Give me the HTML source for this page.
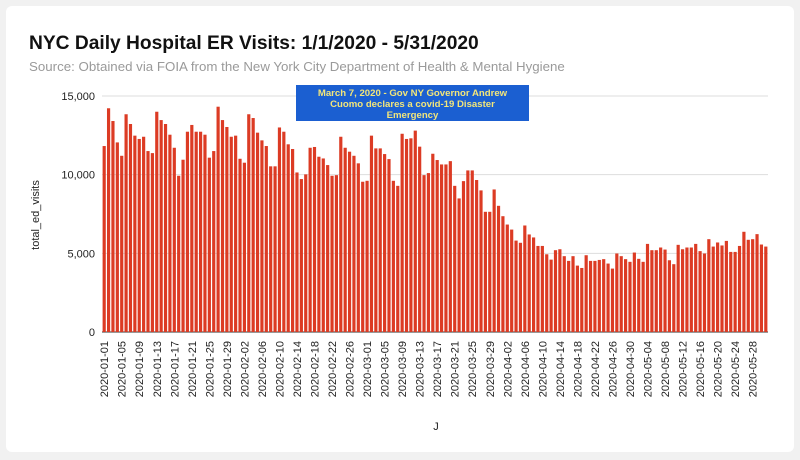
<!DOCTYPE html>
<html><head><meta charset="utf-8"><style>
html,body{margin:0;padding:0;background:#f1f1f1;}
svg{display:block;font-family:"Liberation Sans",Arial,sans-serif;}
</style></head><body>
<svg id="chart" width="800" height="460">
<rect x="6" y="6" width="788" height="446" rx="6" fill="#fff"/>
<text x="29" y="49" font-size="19.2" font-weight="bold" fill="#111">NYC Daily Hospital ER Visits: 1/1/2020 - 5/31/2020</text>
<text x="29" y="71" font-size="13.3" fill="#9a9a9a">Source: Obtained via FOIA from the New York City Department of Health &amp; Mental Hygiene</text>
<g id="grid"></g><g id="bars"></g><g id="xlabels"></g>
<text transform="translate(39,215) rotate(-90)" text-anchor="middle" font-size="11" fill="#222">total_ed_visits</text>
<text x="436" y="430" text-anchor="middle" font-size="11" fill="#222">J</text>
<g>
<rect x="296" y="85" width="233" height="36" fill="#1b5fd1"/>
<text x="412.5" y="96" text-anchor="middle" font-size="9.6" font-weight="bold" fill="#f3e67a">March 7, 2020 - Gov NY Governor Andrew</text>
<text x="412.5" y="107" text-anchor="middle" font-size="9.6" font-weight="bold" fill="#f3e67a">Cuomo declares a covid-19 Disaster</text>
<text x="412.5" y="118" text-anchor="middle" font-size="9.6" font-weight="bold" fill="#f3e67a">Emergency</text>
</g>
</svg>
<script>
const values = [11820,14220,13410,12050,11200,13840,13220,12480,12270,12410,11500,11370,14000,13470,13220,12540,11710,9930,10950,12730,13160,12730,12730,12540,11080,11500,14320,13470,13030,12410,12480,11010,10760,13840,13600,12670,12180,11820,10530,10530,13000,12730,11930,11630,10140,9720,10020,11710,11760,11140,11030,
10610,9930,9970,12410,11710,11460,11200,10720,9550,9610,12480,11670,11670,11310,10990,9610,9290,12600,12270,12310,12800,11780,9970,10100,11330,10930,10650,10650,10860,9290,8490,9590,10270,10270,9660,9000,7640,7640,9060,8020,7360,6830,6510,5810,5670,6770,6200,6010,5470,5470,
4940,4600,5200,5260,4820,4520,4820,4220,4070,4880,4520,4520,4580,4630,4350,4030,4990,4820,4630,4460,5050,4650,4460,5600,5200,5200,5370,5240,4560,4310,5540,5260,5370,5370,5600,5140,4990,5900,5430,5690,5500,5790,5090,5090,5470,6370,5860,5900,6220,5560,5430];
const yTicks = [0,5000,10000,15000];
const yTickLabels = ["0","5,000","10,000","15,000"];
const startDate = "2020-01-01";
const NS="http://www.w3.org/2000/svg";
const x0=102, x1=768, y0=332, yTop=96, yMax=15000;
const step=(x1-x0)/values.length;
const yScale=v=>y0-(v/yMax)*(y0-yTop);
const xScale=i=>x0+i*step;
const grid=document.getElementById('grid'), bars=document.getElementById('bars'), xl=document.getElementById('xlabels');
yTicks.forEach((t,k)=>{
  const l=document.createElementNS(NS,'line');
  l.setAttribute('x1',x0);l.setAttribute('x2',x1);l.setAttribute('y1',yScale(t));l.setAttribute('y2',yScale(t));
  l.setAttribute('stroke',t===0?'#333':'#ddd');l.setAttribute('stroke-width','1');
  
  
  grid.appendChild(l);
  const tx=document.createElementNS(NS,'text');
  tx.setAttribute('x',95);tx.setAttribute('y',yScale(t)+4);tx.setAttribute('text-anchor','end');tx.setAttribute('font-size','11');tx.setAttribute('fill','#222');
  tx.textContent=yTickLabels[k];
  
  
  grid.appendChild(tx);
});
const d0=new Date(startDate+"T00:00:00Z");
values.forEach((v,i)=>{
  const r=document.createElementNS(NS,'rect');
  r.setAttribute('x',xScale(i)+0.6);r.setAttribute('width',step-1.2);
  r.setAttribute('y',yScale(v));r.setAttribute('height',y0-yScale(v));
  r.setAttribute('fill','#dc3b24');
  
  
  bars.appendChild(r);
  if(i%4===0){
    const d=new Date(d0.getTime()+i*86400000);
    const s=d.toISOString().slice(0,10);
    const cx=xScale(i)+step/2+4;
    const t=document.createElementNS(NS,'text');
    t.setAttribute('transform','translate('+cx+',341) rotate(-90)');
    t.setAttribute('text-anchor','end');t.setAttribute('font-size','11');t.setAttribute('fill','#222');
    t.textContent=s;
    
    
    xl.appendChild(t);
  }
});
</script>
</body></html>
